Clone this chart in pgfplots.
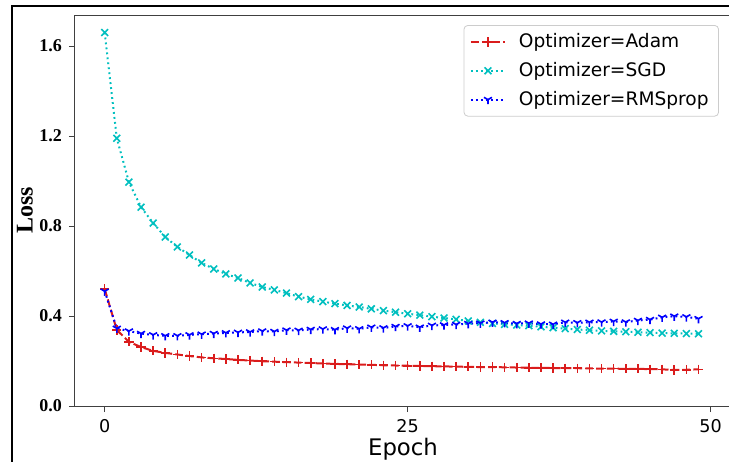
\documentclass[border=0pt]{standalone}
\usepackage{pgfplots}
\pgfplotsset{compat=1.18}
\usepackage{fontspec}
\setmainfont{Liberation Serif}
\newfontfamily\dejavu{DejaVu Sans}
\definecolor{cadam}{RGB}{218,28,28}
\definecolor{csgd}{RGB}{0,191,191}
\definecolor{crms}{RGB}{0,0,255}
\begin{document}
\begin{tikzpicture}
\path[use as bounding box] (-37.5pt,-27.5pt) rectangle (327pt,203pt);
\clip (-37.5pt,-27.5pt) rectangle (327pt,203pt);
\draw[line width=1pt] (-31.5pt,-40pt) -- (-31.5pt,200pt) -- (340pt,200pt);
\begin{axis}[
  at={(0pt,0pt)}, anchor=south west,
  scale only axis, width=328pt, height=195.5pt,
  xmin=-2.45, xmax=51.68, ymin=0, ymax=1.738,
  axis line style={black!75, line width=0.5pt},
  xtick={0,25,50}, ytick={0,0.4,0.8,1.2,1.6},
  tick align=outside, major tick length=3pt,
  xtick pos=bottom, ytick pos=left,
  tick style={black!75, line width=0.5pt},
  /pgf/number format/assume math mode=true,
  xticklabel style={font=\dejavu\fontsize{8.8}{10}\selectfont},
  yticklabel style={font=\fontsize{9}{10}\selectfont\bfseries,
    /pgf/number format/.cd, fixed, fixed zerofill, precision=1},
  xlabel={Epoch},
  xlabel style={font=\dejavu\fontsize{11.4}{13}\selectfont, at={(axis description cs:0.5,0)}, anchor=base, yshift=-24.5pt},
  ylabel={Loss},
  ylabel style={font=\fontsize{12}{13}\selectfont\bfseries, at={(axis description cs:0,0.5)}, rotate=0, anchor=south, yshift=17.5pt},
  legend style={at={(axis description cs:1,1)}, anchor=north east, xshift=-6pt, yshift=-5pt,
    draw=black!20, rounded corners=2pt, fill=white,
    font=\dejavu\fontsize{9.3}{11}\selectfont, row sep=1.85pt, inner xsep=3pt, inner ysep=2pt},
  legend cell align=left,
  legend image code/.code={\draw[mark repeat=2,mark phase=2,#1] plot coordinates {(0pt,0pt) (8.5pt,0pt) (17pt,0pt)};},
]
\addplot[cadam, line width=1pt, dash pattern=on 3.8pt off 1.6pt, mark=+, mark size=2.3pt, mark options={solid, line width=0.8pt}] coordinates {
(0,0.52)(1,0.338)(2,0.285)(3,0.262)(4,0.245)(5,0.236)(6,0.229)(7,0.222)(8,0.216)(9,0.212)
(10,0.209)(11,0.205)(12,0.202)(13,0.199)(14,0.197)(15,0.195)(16,0.193)(17,0.191)(18,0.189)(19,0.187)
(20,0.186)(21,0.184)(22,0.183)(23,0.181)(24,0.180)(25,0.179)(26,0.178)(27,0.177)(28,0.176)(29,0.175)
(30,0.174)(31,0.173)(32,0.173)(33,0.172)(34,0.171)(35,0.170)(36,0.170)(37,0.169)(38,0.168)(39,0.168)
(40,0.167)(41,0.166)(42,0.166)(43,0.165)(44,0.165)(45,0.164)(46,0.163)(47,0.160)(48,0.161)(49,0.163)
};
\addlegendentry{\hspace{4.5pt}Optimizer=Adam}
\addplot[csgd, line width=1pt, dash pattern=on 0.9pt off 1.6pt, mark=x, mark size=2.4pt, mark options={solid, line width=0.8pt}] coordinates {
(0,1.66)(1,1.19)(2,0.995)(3,0.884)(4,0.813)(5,0.751)(6,0.707)(7,0.671)(8,0.636)(9,0.609)
(10,0.587)(11,0.569)(12,0.547)(13,0.529)(14,0.516)(15,0.502)(16,0.486)(17,0.474)(18,0.464)(19,0.455)
(20,0.447)(21,0.440)(22,0.432)(23,0.424)(24,0.417)(25,0.410)(26,0.404)(27,0.397)(28,0.391)(29,0.385)
(30,0.378)(31,0.372)(32,0.367)(33,0.363)(34,0.360)(35,0.357)(36,0.352)(37,0.348)(38,0.344)(39,0.340)
(40,0.337)(41,0.334)(42,0.332)(43,0.330)(44,0.328)(45,0.326)(46,0.324)(47,0.323)(48,0.322)(49,0.321)
};
\addlegendentry{\hspace{4.5pt}Optimizer=SGD}
\addplot[crms, line width=1pt, dash pattern=on 0.9pt off 1.6pt, mark=Mercedes star flipped, mark size=2.3pt, mark options={solid, line width=0.8pt}] coordinates {
(0,0.51)(1,0.345)(2,0.333)(3,0.322)(4,0.316)(5,0.312)(6,0.312)(7,0.316)(8,0.319)(9,0.322)
(10,0.325)(11,0.327)(12,0.329)(13,0.333)(14,0.331)(15,0.337)(16,0.336)(17,0.340)(18,0.342)(19,0.339)
(20,0.346)(21,0.343)(22,0.350)(23,0.347)(24,0.353)(25,0.356)(26,0.350)(27,0.358)(28,0.360)(29,0.362)
(30,0.366)(31,0.368)(32,0.372)(33,0.370)(34,0.366)(35,0.368)(36,0.364)(37,0.363)(38,0.372)(39,0.370)
(40,0.372)(41,0.373)(42,0.376)(43,0.373)(44,0.380)(45,0.384)(46,0.394)(47,0.399)(48,0.396)(49,0.388)
};
\addlegendentry{\hspace{4.5pt}Optimizer=RMSprop}
\end{axis}
\end{tikzpicture}
\end{document}
